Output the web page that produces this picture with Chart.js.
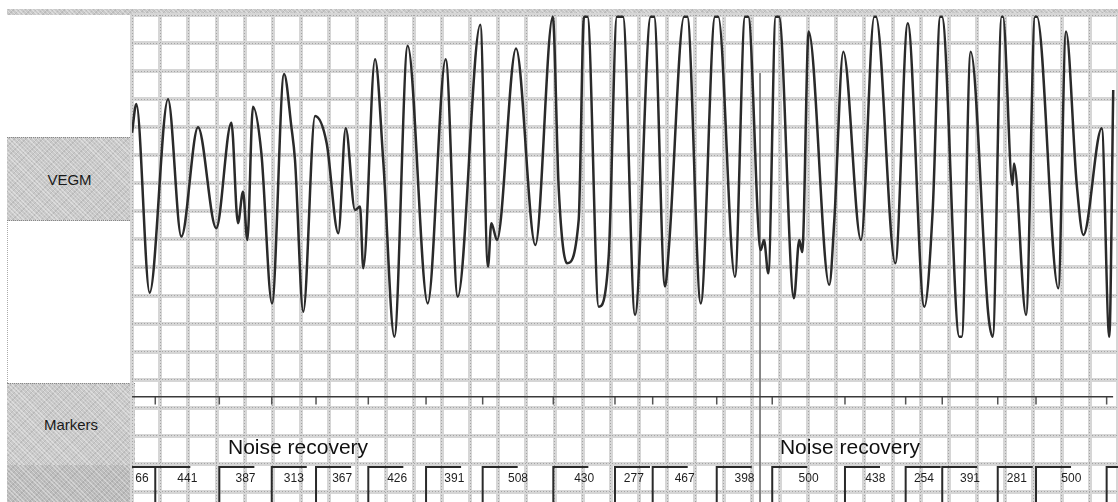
<!DOCTYPE html>
<html lang="en">
<head>
<meta charset="UTF-8">
<title>VEGM - Noise recovery</title>
<script src="https://cdn.jsdelivr.net/npm/chart.js@4.4.0/dist/chart.umd.min.js"></script>
<style>
  body { margin: 0; background: #fff; font-family: "Liberation Sans", Arial, sans-serif; }
  #wrap { position: relative; width: 1118px; height: 502px; overflow: hidden; }
  #chart { position: absolute; left: 0; top: 0; }
  .tex {
    position: absolute;
    background-color: #c9c9c9;
    background-image:
      repeating-linear-gradient(45deg, rgba(255,255,255,.35) 0 1px, transparent 1px 3px),
      repeating-linear-gradient(-45deg, rgba(0,0,0,.08) 0 1px, transparent 1px 4px);
  }
  .lbl {
    display: flex; align-items: center; justify-content: center;
    font-size: 15px; color: #1a1a1a;
    border-top: 1px dotted #888; border-bottom: 1px dotted #888;
  }
</style>
</head>
<body>
<div id="wrap">
  <div class="tex" style="left:7px;top:9px;width:1111px;height:6px"></div>
  <div style="position:absolute;left:7px;top:220px;width:0;height:163px;border-left:1px dotted #aaa"></div>
  <div class="tex lbl" style="left:7px;top:137px;width:125px;height:82px">VEGM</div>
  <div class="tex lbl" style="left:7px;top:383px;width:128px;height:81px">Markers</div>
  <div class="tex" style="left:7px;top:465px;width:125px;height:37px;background-color:#bcbcbc"></div>
  <canvas id="chart" width="1118" height="502"></canvas>
</div>

<script>
// VEGM trace: time (ms) and amplitude (grid divisions above the bottom grid line)
const egmTime = [0, 31, 126, 257, 352, 471, 601, 709, 756, 792, 823, 863, 923, 999, 1085, 1137, 1163, 1222,
  1306, 1389, 1472, 1525, 1591, 1627, 1650, 1734, 1793, 1872, 1967, 2110, 2238, 2324, 2485, 2540, 2564, 2604,
  2740, 2878, 3002, 3045, 3104, 3187, 3225, 3250, 3330, 3401, 3460, 3503, 3589, 3701, 3725, 3803, 3832, 3939,
  3962, 4058, 4160, 4183, 4302, 4374, 4397, 4486, 4509, 4540, 4593, 4616, 4723, 4761, 4782, 4828, 4975, 5011,
  5075, 5201, 5296, 5308, 5446, 5535, 5653, 5713, 5767, 5779, 5903, 5920, 5984, 6110, 6141, 6205, 6214, 6282,
  6293, 6379, 6443, 6457, 6609, 6664, 6740, 6788, 6919, 6973, 7001];
const egmAmp = [12.80, 13.83, 7.10, 14.00, 9.10, 13.00, 9.40, 13.16, 9.58, 10.70, 8.98, 13.73, 12.08, 6.72, 14.90, 13.02, 11.83, 6.42,
  13.40, 12.43, 9.22, 12.96, 10.05, 10.17, 7.97, 15.42, 11.77, 5.53, 15.90, 6.72, 15.42, 6.96, 16.65, 8.03, 9.58, 8.98,
  15.81, 8.80, 16.94, 10.76, 8.15, 9.69, 16.94, 16.94, 6.60, 8.39, 16.94, 16.94, 6.31, 16.94, 16.94, 7.32, 8.80, 16.94,
  16.94, 6.72, 16.94, 16.94, 7.67, 16.94, 16.94, 8.62, 8.98, 7.79, 16.94, 16.94, 6.90, 8.98, 8.55, 16.41, 7.38, 9.69,
  15.69, 8.98, 16.94, 16.94, 8.15, 16.71, 6.60, 10.05, 16.94, 16.94, 5.53, 5.53, 15.69, 6.31, 5.53, 16.94, 16.94, 10.94,
  11.71, 6.31, 16.94, 16.94, 7.26, 16.41, 11.00, 9.16, 12.96, 5.53, 14.33];

// sensed beats (ms) and the interval printed after each one
const beatTime = [-24, 166, 623, 997, 1313, 1686, 2098, 2502, 3006, 3446, 3715, 4172, 4568, 5087, 5520, 5781, 6177, 6450, 6954];
const intervalLabels = ['66', '441', '387', '313', '367', '426', '391', '508', '430', '277', '467', '398', '500', '438', '254', '391', '281', '500'];

const noiseTime = [685, 4623];
const noiseLabels = ['Noise recovery', 'Noise recovery'];
const cursorTime = 4481;

// layout in grid units
const X_MAX = 7035, Y_MIN = -0.36, Y_MAX = 17;
const MARKER_Y = 3.39, TICK_Y = 3.12, BRACKET_TOP = 0.89, NUM_Y = 0.46, NOISE_Y = 1.56, CURSOR_TOP = 14.93;
const BLANK_MS = 250;

const egmData = egmTime.map((t, i) => ({ x: t, y: egmAmp[i] }));

const tickData = beatTime.flatMap(t => [{ x: t, y: MARKER_Y }, { x: t, y: TICK_Y }, { x: t, y: null }]);

const bracketData = beatTime.flatMap((t, i) => {
    const next = i + 1 < beatTime.length ? beatTime[i + 1] : X_MAX;
    return [{ x: t, y: Y_MIN }, { x: t, y: BRACKET_TOP }, { x: Math.min(t + BLANK_MS, next), y: BRACKET_TOP }, { x: t, y: null }];
});

const textPlugin = {
    id: 'markerText',
    afterDatasetsDraw(chart) {
        const { ctx, chartArea: a, scales: { x, y } } = chart;
        ctx.save();
        ctx.beginPath();
        ctx.rect(a.left, a.top, a.right - a.left, a.bottom - a.top);
        ctx.clip();
        ctx.fillStyle = '#1e1e1e';
        ctx.textBaseline = 'middle';
        ctx.textAlign = 'center';
        ctx.font = '12px "Liberation Sans", Arial, sans-serif';
        intervalLabels.forEach((lab, i) => {
            const mid = (beatTime[i] + beatTime[i + 1]) / 2;
            ctx.fillText(lab, x.getPixelForValue(mid), y.getPixelForValue(NUM_Y));
        });
        ctx.textAlign = 'left';
        ctx.font = '21px "Liberation Sans", Arial, sans-serif';
        ctx.fillStyle = '#111';
        noiseLabels.forEach((lab, i) => {
            ctx.fillText(lab, x.getPixelForValue(noiseTime[i]), y.getPixelForValue(NOISE_Y));
        });
        ctx.restore();
    }
};

const hiddenTicks = { display: false, includeBounds: false };

new Chart(document.getElementById('chart'), {
    type: 'line',
    data: {
        datasets: [
            { data: egmData, borderColor: '#2a2a2a', borderWidth: 2.5, cubicInterpolationMode: 'monotone' },
            { data: [{ x: 0, y: MARKER_Y }, { x: 7000, y: MARKER_Y }], borderColor: '#3a3a3a', borderWidth: 1.5 },
            { data: tickData, borderColor: '#555', borderWidth: 1.5, spanGaps: false },
            { data: bracketData, borderColor: '#2a2a2a', borderWidth: 2, spanGaps: false },
            { data: [{ x: cursorTime, y: CURSOR_TOP }, { x: cursorTime, y: Y_MIN }], borderColor: '#777', borderWidth: 1 }
        ]
    },
    options: {
        responsive: false,
        animation: false,
        layout: { padding: { left: 132, top: 15, right: 0, bottom: 0 } },
        elements: { point: { radius: 0 }, line: { tension: 0 } },
        plugins: { legend: { display: false }, tooltip: { enabled: false } },
        scales: {
            x: {
                type: 'linear', min: 0, max: X_MAX,
                ticks: { ...hiddenTicks, stepSize: 200 },
                grid: { color: '#d6d6d6', lineWidth: 4, drawTicks: false },
                border: { display: false }
            },
            y: {
                min: Y_MIN, max: Y_MAX,
                ticks: { ...hiddenTicks, stepSize: 1 },
                grid: { color: '#d6d6d6', lineWidth: 4, drawTicks: false },
                border: { display: false }
            },
            x2: {
                type: 'linear', position: 'bottom', min: 0, max: X_MAX,
                ticks: { ...hiddenTicks, stepSize: 200 },
                grid: { color: '#a4a4a4', lineWidth: 1, drawTicks: false },
                border: { display: false, dash: [1, 2] }
            },
            y2: {
                type: 'linear', position: 'left', min: Y_MIN, max: Y_MAX,
                ticks: { ...hiddenTicks, stepSize: 1 },
                grid: { color: '#a4a4a4', lineWidth: 1, drawTicks: false },
                border: { display: false, dash: [1, 2] }
            }
        }
    },
    plugins: [textPlugin]
});
</script>
</body>
</html>
